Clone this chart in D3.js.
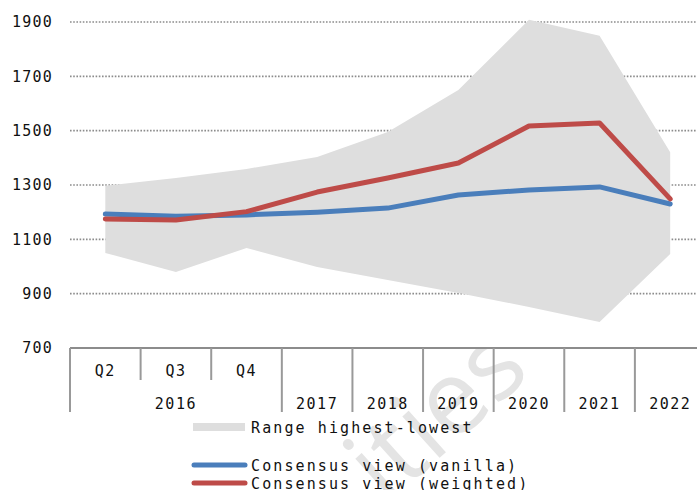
<!DOCTYPE html>
<html>
<head>
<meta charset="utf-8">
<script src="https://cdn.jsdelivr.net/npm/d3@7"></script>
<style>
  body { margin: 0; background: #fff; }
  svg { display: block; font-family: "DejaVu Sans Mono", monospace; }
</style>
</head>
<body>
<svg id="chart"></svg>
<script>
// categories on the x axis (inner row) and their year group (outer row)
let catLabels = ["Q2", "Q3", "Q4", "2017", "2018", "2019", "2020", "2021", "2022"];
let groupLabels = ["2016", "2016", "2016", "2017", "2018", "2019", "2020", "2021", "2022"];
let yTicks = [700, 900, 1100, 1300, 1500, 1700, 1900];

// series
let rangeHigh = [1297, 1326, 1359, 1403, 1495, 1650, 1908, 1849, 1421];
let rangeLow = [1050, 980, 1068, 998, 950, 902, 851, 796, 1046];
let vanilla = [1193, 1185, 1190, 1200, 1215, 1263, 1282, 1293, 1230];
let weighted = [1175, 1171, 1202, 1274, 1326, 1381, 1517, 1528, 1249];

const w = 697;
const h = 490;
const plotLeft = 70, plotRight = 705.5, plotTop = 22, plotBottom = 348;

let svg = d3.select("#chart").attr("width", w).attr("height", h);

// faint watermark behind everything
svg.append("text")
  .attr("transform", "translate(386,506) rotate(-42)")
  .attr("font-family", "'Open Sans', sans-serif")
  .attr("font-size", 104)
  .attr("fill", "#e4e4e4")
  .text("ities");

let xScale = d3.scaleBand().domain(catLabels).range([plotLeft, plotRight]).padding(0);
let yScale = d3.scaleLinear().domain([700, 1900]).range([plotBottom, plotTop]);
let cx = (d) => xScale(d) + xScale.bandwidth() / 2;

// plot background covers watermark
svg.append("rect").attr("x", plotLeft).attr("y", 0).attr("width", w - plotLeft).attr("height", plotBottom)
  .attr("fill", "#fff");

// gridlines
svg.append("g").selectAll("line")
  .data(yTicks.filter(t => t > 700))
  .enter().append("line")
  .attr("x1", plotLeft).attr("x2", w)
  .attr("y1", d => yScale(d)).attr("y2", d => yScale(d))
  .attr("stroke", "#8c8c8c").attr("stroke-width", 1.6)
  .attr("stroke-dasharray", "1.6,1.6");

// y axis labels
let yAxis = d3.axisLeft(yScale).tickValues(yTicks).tickFormat(d3.format("d")).tickSize(0).tickPadding(17);
let yg = svg.append("g").attr("transform", "translate(" + plotLeft + ",0)").call(yAxis);
yg.select(".domain").remove();
yg.selectAll("text").attr("font-size", 15).attr("letter-spacing", 1.2)
  .attr("fill", "#111").attr("font-family", "'DejaVu Sans Mono', monospace");

// range area
let area = d3.area()
  .x((d, i) => cx(catLabels[i]))
  .y0((d, i) => yScale(rangeLow[i]))
  .y1((d) => yScale(d));
svg.append("path").datum(rangeHigh).attr("d", area).attr("fill", "#dedede");

// lines
let line = d3.line().x((d, i) => cx(catLabels[i])).y(d => yScale(d));
svg.append("path").datum(vanilla).attr("d", line).attr("fill", "none")
  .attr("stroke", "#4a7ebb").attr("stroke-width", 5).attr("stroke-linejoin", "round").attr("stroke-linecap", "round");
svg.append("path").datum(weighted).attr("d", line).attr("fill", "none")
  .attr("stroke", "#be4b48").attr("stroke-width", 5).attr("stroke-linejoin", "round").attr("stroke-linecap", "round");

// x axis baseline
svg.append("line").attr("x1", plotLeft).attr("x2", w).attr("y1", plotBottom).attr("y2", plotBottom)
  .attr("stroke", "#8c8c8c").attr("stroke-width", 2);

// separators: short inside a year group, long between groups
let sepG = svg.append("g");
catLabels.forEach((c, i) => {
  let x = xScale(c);
  let long = i === 0 || groupLabels[i] !== groupLabels[i - 1];
  sepG.append("line").attr("x1", x).attr("x2", x).attr("y1", plotBottom).attr("y2", long ? 412 : 380)
    .attr("stroke", "#999").attr("stroke-width", 2);
});

// inner row labels (quarters only)
svg.append("g").selectAll("text")
  .data(catLabels.filter((c, i) => c.startsWith("Q")))
  .enter().append("text")
  .attr("x", d => cx(d)).attr("y", 376)
  .attr("text-anchor", "middle").attr("font-size", 15).attr("letter-spacing", 1.5).attr("fill", "#111")
  .text(d => d);

// outer row labels, centred on their group
let groups = Array.from(new Set(groupLabels));
svg.append("g").selectAll("text")
  .data(groups)
  .enter().append("text")
  .attr("x", g => {
    let idx = groupLabels.map((v, i) => v === g ? i : -1).filter(i => i >= 0);
    let x0 = xScale(catLabels[idx[0]]);
    let x1 = xScale(catLabels[idx[idx.length - 1]]) + xScale.bandwidth();
    return (x0 + x1) / 2;
  })
  .attr("y", 409)
  .attr("text-anchor", "middle").attr("font-size", 15).attr("letter-spacing", 1.5).attr("fill", "#111")
  .text(g => g);

// legend
let legend = svg.append("g");
legend.append("rect").attr("x", 193).attr("y", 423).attr("width", 52).attr("height", 8).attr("fill", "#dedede");
legend.append("text").attr("x", 251).attr("y", 433).attr("font-size", 15).attr("letter-spacing", 2.1)
  .attr("fill", "#111").text("Range highest-lowest");
legend.append("line").attr("x1", 194).attr("x2", 245).attr("y1", 465).attr("y2", 465)
  .attr("stroke", "#4a7ebb").attr("stroke-width", 5).attr("stroke-linecap", "round");
legend.append("text").attr("x", 251).attr("y", 471).attr("font-size", 15).attr("letter-spacing", 2.1)
  .attr("fill", "#111").text("Consensus view (vanilla)");
legend.append("line").attr("x1", 194).attr("x2", 245).attr("y1", 483).attr("y2", 483)
  .attr("stroke", "#be4b48").attr("stroke-width", 5).attr("stroke-linecap", "round");
legend.append("text").attr("x", 251).attr("y", 489).attr("font-size", 15).attr("letter-spacing", 2.1)
  .attr("fill", "#111").text("Consensus view (weighted)");
</script>
</body>
</html>
